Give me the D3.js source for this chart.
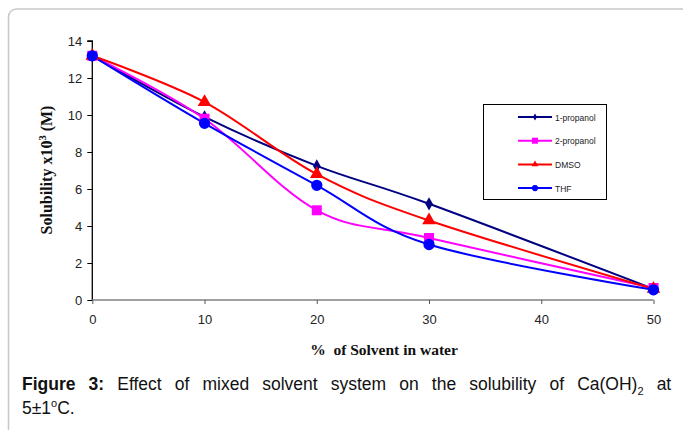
<!DOCTYPE html>
<html><head><meta charset="utf-8">
<script src="https://cdn.jsdelivr.net/npm/d3@7"></script>
<style>
html,body{margin:0;padding:0;background:#fff;}
svg{display:block;}
</style></head>
<body>
<svg id="chart" width="683" height="430"></svg>
<script>
const solventPct = [0, 10, 20, 30, 50];
const propanol1 = [13.2, 9.9, 7.25, 5.2, 0.6];
const propanol2 = [13.2, 9.8, 4.85, 3.35, 0.65];
const dmso = [13.2, 10.7, 6.8, 4.3, 0.6];
const thf = [13.2, 9.55, 6.2, 3.0, 0.55];
const seriesNames = ["1-propanol", "2-propanol", "DMSO", "THF"];
const xTicks = [0, 10, 20, 30, 40, 50];
const yTicks = [0, 2, 4, 6, 8, 10, 12, 14];

const series = [
  {name: seriesNames[0], values: propanol1, color: "#000080", symbol: d3.symbolDiamond, size: 50, lsize: 14},
  {name: seriesNames[1], values: propanol2, color: "#ff00ff", symbol: d3.symbolSquare, size: 100, lsize: 36},
  {name: seriesNames[2], values: dmso, color: "#ff0000", symbol: d3.symbolTriangle, size: 80, lsize: 20},
  {name: seriesNames[3], values: thf, color: "#0000ff", symbol: d3.symbolCircle, size: 100, lsize: 30}
];

const svg = d3.select("#chart");

// card border
svg.append("rect").attr("x", 8.5).attr("y", 9).attr("width", 690).attr("height", 440)
  .attr("rx", 8).attr("fill", "none").attr("stroke", "#c8c8c8").attr("stroke-width", 1.5);

const x = d3.scaleLinear().domain([0, 50]).range([92.3, 653.5]);
const y = d3.scaleLinear().domain([0, 14]).range([300, 41]);

// y axis
const yAxis = d3.axisLeft(y).tickValues(yTicks).tickSize(5).tickPadding(5).tickFormat(d3.format("d"));
const gy = svg.append("g").attr("transform", `translate(${x(0)},0)`).call(yAxis);
gy.select(".domain").attr("stroke", "#000").attr("stroke-width", 1.3).attr("d", `M-5,${y(14)}H0V${y(0)}`);
gy.selectAll(".tick line").attr("stroke", "#000");
gy.selectAll(".tick text").attr("font-family", "Liberation Sans, Arial, sans-serif").attr("font-size", 13).attr("fill", "#222");

// x axis
const xAxis = d3.axisBottom(x).tickValues(xTicks).tickSize(4).tickPadding(11).tickFormat(d3.format("d"));
const gx = svg.append("g").attr("transform", `translate(0,${y(0)})`).call(xAxis);
gx.select(".domain").attr("stroke", "#808080").attr("stroke-width", 1.5).attr("d", `M${x(0)},0H${x(50)}`);
gx.selectAll(".tick line").attr("stroke", "#555");
gx.selectAll(".tick text").attr("font-family", "Liberation Sans, Arial, sans-serif").attr("font-size", 13).attr("fill", "#222");

// lines
const line = d3.line().x((d, i) => x(solventPct[i])).y(d => y(d)).curve(d3.curveCardinal.tension(0));
series.forEach(s => {
  svg.append("path").datum(s.values).attr("d", line).attr("fill", "none")
    .attr("stroke", s.color).attr("stroke-width", 2);
});
series.forEach(s => {
  svg.append("g").selectAll("path").data(s.values).join("path")
    .attr("transform", (d, i) => `translate(${x(solventPct[i])},${y(d)})`)
    .attr("d", d3.symbol().type(s.symbol).size(s.size))
    .attr("fill", s.color);
});

// legend
const lg = svg.append("g");
lg.append("rect").attr("x", 483.5).attr("y", 104.5).attr("width", 123).attr("height", 95)
  .attr("fill", "#fff").attr("stroke", "#000").attr("stroke-width", 1);
series.forEach((s, i) => {
  const ly = 117 + i * 23.7;
  lg.append("line").attr("x1", 518).attr("x2", 552).attr("y1", ly).attr("y2", ly)
    .attr("stroke", s.color).attr("stroke-width", 2);
  lg.append("path").attr("transform", `translate(535,${ly})`)
    .attr("d", d3.symbol().type(s.symbol).size(s.lsize)).attr("fill", s.color);
  lg.append("text").attr("x", 555).attr("y", ly + 3.5).text(s.name)
    .attr("font-family", "Liberation Sans, Arial, sans-serif").attr("font-size", 8.5).attr("fill", "#222");
});

// axis titles
const yt = svg.append("text").attr("transform", "translate(52,170) rotate(-90)")
  .attr("text-anchor", "middle").attr("font-family", "Liberation Serif, Times New Roman, serif")
  .attr("font-weight", "bold").attr("font-size", 16).attr("fill", "#111");
yt.append("tspan").text("Solubility x10");
yt.append("tspan").text("3").attr("font-size", 10.5).attr("dy", -6);
yt.append("tspan").text(" (M)").attr("dy", 6);

svg.append("text").attr("x", 384).attr("y", 355).attr("text-anchor", "middle")
  .attr("font-family", "Liberation Serif, Times New Roman, serif").attr("font-weight", "bold")
  .attr("font-size", 15.5).attr("fill", "#111").attr("xml:space", "preserve").text("%  of Solvent in water");

// caption
const cap1 = svg.append("text").attr("x", 22).attr("y", 390)
  .attr("font-family", "Liberation Sans, Arial, sans-serif").attr("font-size", 17.5).attr("fill", "#111");
cap1.append("tspan").attr("font-weight", "bold").text("Figure 3:");
cap1.append("tspan").text(" Effect of mixed solvent system on the solubility of Ca(OH)");
cap1.append("tspan").text("2").attr("font-size", 11).attr("dy", 5);
cap1.append("tspan").text(" at").attr("dy", -5);
// justify line 1 to right edge 663
const w = cap1.node().getComputedTextLength();
const gaps = 11;
cap1.attr("word-spacing", Math.max(0, (663 - 22 - w) / gaps));

const cap2 = svg.append("text").attr("x", 22).attr("y", 414)
  .attr("font-family", "Liberation Sans, Arial, sans-serif").attr("font-size", 17.5).attr("fill", "#111");
cap2.append("tspan").text("5±1");
cap2.append("tspan").text("o").attr("font-size", 11).attr("dy", -7);
cap2.append("tspan").text("C.").attr("dy", 7);
</script>
</body></html>
